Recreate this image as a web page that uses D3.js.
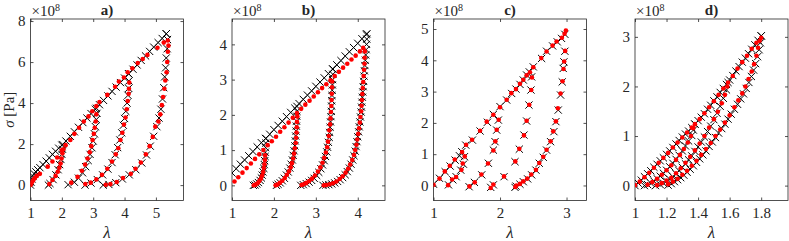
<!DOCTYPE html>
<html lang="en">
<head>
<meta charset="utf-8">
<title>Stress vs stretch, four tests</title>
<script src="https://cdn.jsdelivr.net/npm/d3@7"></script>
<style>
body { margin: 0; background: #fff; }
text { font-family: "Liberation Serif", "Times New Roman", serif; fill: #262626; }
</style>
</head>
<body>
<script>
// ---- data: [lambda, sigma/1e8] ----
// panel a: model (black x) and experiment (red dots)
var blackA = [
  [[1.0,0.0],[1.02,0.15],[1.05,0.3],[1.08,0.42],[1.12,0.55],[1.17,0.65],[1.23,0.75],[1.3,0.85],[1.4,1.0],[1.5,1.17],[1.6,1.33],[1.7,1.5],[1.8,1.65],[1.9,1.8],[2.0,1.95],[2.13,2.15],[2.27,2.38],[2.4,2.6],[2.53,2.82],[2.67,3.05],[2.8,3.27],[2.93,3.49],[3.07,3.7],[3.2,3.92],[3.33,4.13],[3.47,4.35],[3.6,4.57],[3.73,4.78],[3.87,5.0],[4.0,5.22],[4.13,5.43],[4.27,5.65],[4.4,5.86],[4.53,6.08],[4.67,6.3],[4.8,6.52],[4.93,6.73],[5.07,6.95],[5.2,7.15],[5.33,7.38]],
  [[2.03,1.98],[2.02,1.75],[2.0,1.5],[1.97,1.25],[1.93,1.0],[1.88,0.75],[1.81,0.5],[1.72,0.27],[1.62,0.08],[1.57,0.0]],
  [[3.1,3.75],[3.12,3.5],[3.1,3.2],[3.07,2.85],[3.04,2.5],[3.0,2.15],[2.96,1.82],[2.9,1.5],[2.84,1.2],[2.76,0.9],[2.66,0.6],[2.53,0.34],[2.4,0.14],[2.2,0.02]],
  [[4.13,5.43],[4.14,5.08],[4.13,4.72],[4.11,4.38],[4.08,4.0],[4.04,3.6],[4.0,3.25],[3.96,2.92],[3.91,2.55],[3.85,2.2],[3.78,1.83],[3.7,1.48],[3.6,1.1],[3.47,0.78],[3.3,0.5],[3.13,0.27],[2.93,0.1],[2.74,0.0]],
  [[5.33,7.38],[5.37,7.1],[5.36,6.65],[5.33,6.2],[5.31,5.72],[5.28,5.28],[5.25,4.75],[5.21,4.2],[5.16,3.7],[5.1,3.27],[5.03,2.85],[4.93,2.38],[4.82,1.9],[4.7,1.47],[4.55,1.08],[4.36,0.75],[4.15,0.5],[3.93,0.3],[3.72,0.12],[3.5,0.03],[3.32,0.0]]
];
var redA = [
  [[1.0,0.0],[1.02,0.07],[1.04,0.14],[1.07,0.2],[1.1,0.27],[1.14,0.35],[1.2,0.45],[1.3,0.55],[1.55,0.9],[1.7,1.15],[1.85,1.35],[2.0,1.7],[2.12,1.95],[2.27,2.2],[2.4,2.5],[2.55,2.8],[2.7,3.1],[2.85,3.35],[2.97,3.6],[3.1,3.85],[3.2,4.05],[3.45,4.4],[3.7,4.8],[3.82,5.05],[3.98,5.25],[4.1,5.5],[4.25,5.7],[4.42,5.95],[4.58,6.15],[4.73,6.35],[5.05,6.7],[5.25,6.95],[5.38,7.05]],
  [[2.05,1.75],[2.02,1.55],[1.99,1.3],[1.96,1.05],[1.92,0.85],[1.87,0.65],[1.8,0.45],[1.7,0.25],[1.6,0.05]],
  [[3.1,3.45],[3.08,3.1],[3.05,2.8],[3.02,2.5],[2.98,2.2],[2.94,1.9],[2.89,1.6],[2.82,1.3],[2.74,1.0],[2.64,0.7],[2.5,0.4],[2.3,0.12]],
  [[4.15,5.0],[4.14,4.7],[4.13,4.45],[4.1,4.1],[4.07,3.7],[4.03,3.3],[3.98,2.95],[3.93,2.55],[3.87,2.2],[3.8,1.8],[3.72,1.5],[3.6,1.15],[3.45,0.8],[3.28,0.5],[3.1,0.28],[2.92,0.12],[2.75,0.05]],
  [[5.4,6.8],[5.38,6.5],[5.36,6.0],[5.34,5.5],[5.3,5.1],[5.27,4.7],[5.23,4.3],[5.19,3.9],[5.14,3.45],[5.08,3.1],[4.98,2.85],[4.9,2.35],[4.8,1.9],[4.68,1.5],[4.52,1.1],[4.35,0.8],[4.2,0.55],[3.95,0.35],[3.75,0.15],[3.55,0.05],[3.4,0.02]]
];

// panel b
var blackB = [
  [[1.0,0.35],[1.1,0.47],[1.2,0.6],[1.3,0.72],[1.4,0.84],[1.5,0.96],[1.6,1.09],[1.7,1.21],[1.8,1.33],[1.9,1.45],[2.0,1.58],[2.1,1.7],[2.2,1.82],[2.3,1.95],[2.4,2.07],[2.5,2.19],[2.6,2.32],[2.7,2.44],[2.8,2.56],[2.9,2.68],[3.0,2.81],[3.1,2.93],[3.2,3.05],[3.3,3.17],[3.4,3.3],[3.5,3.42],[3.6,3.54],[3.7,3.67],[3.8,3.79],[3.9,3.91],[4.0,4.03],[4.1,4.16],[4.2,4.28]],
  [[1.81,1.33],[1.805,1.2],[1.8,1.07],[1.795,0.94],[1.79,0.82],[1.78,0.7],[1.77,0.59],[1.76,0.48],[1.74,0.38],[1.72,0.29],[1.7,0.21],[1.67,0.14],[1.63,0.08],[1.59,0.04],[1.55,0.01],[1.51,0.0]],
  [[2.55,2.24],[2.55,2.1],[2.545,1.96],[2.54,1.82],[2.535,1.68],[2.53,1.54],[2.52,1.4],[2.51,1.26],[2.5,1.12],[2.48,0.98],[2.46,0.85],[2.44,0.72],[2.41,0.6],[2.38,0.49],[2.34,0.38],[2.3,0.29],[2.25,0.2],[2.2,0.13],[2.15,0.07],[2.1,0.03],[2.06,0.0]],
  [[3.41,3.3],[3.405,3.15],[3.4,3.0],[3.395,2.85],[3.39,2.7],[3.385,2.55],[3.38,2.4],[3.375,2.25],[3.37,2.1],[3.36,1.95],[3.35,1.8],[3.34,1.65],[3.33,1.5],[3.32,1.36],[3.3,1.22],[3.28,1.08],[3.26,0.95],[3.23,0.82],[3.2,0.7],[3.16,0.58],[3.12,0.47],[3.07,0.37],[3.02,0.28],[2.96,0.2],[2.9,0.14],[2.84,0.09],[2.77,0.05],[2.7,0.02],[2.64,0.0]],
  [[4.22,4.3],[4.215,4.15],[4.21,4.0],[4.2,3.85],[4.19,3.7],[4.18,3.55],[4.17,3.4],[4.16,3.25],[4.15,3.1],[4.14,2.95],[4.13,2.8],[4.12,2.65],[4.11,2.5],[4.1,2.36],[4.09,2.22],[4.08,2.08],[4.065,1.94],[4.05,1.8],[4.035,1.66],[4.02,1.52],[4.0,1.38],[3.98,1.24],[3.96,1.1],[3.94,0.97],[3.91,0.84],[3.88,0.72],[3.84,0.6],[3.8,0.49],[3.75,0.39],[3.7,0.3],[3.64,0.22],[3.58,0.16],[3.52,0.11],[3.45,0.07],[3.38,0.04],[3.31,0.02],[3.24,0.01],[3.17,0.0]]
];
var redB = [
  [[1.06,0.11],[1.15,0.23],[1.25,0.36],[1.35,0.49],[1.45,0.62],[1.55,0.75],[1.65,0.88],[1.75,1.0],[1.85,1.14],[1.95,1.25],[2.05,1.38],[2.15,1.52],[2.25,1.65],[2.35,1.78],[2.45,1.92],[2.55,2.05],[2.65,2.17],[2.75,2.29],[2.85,2.4],[2.95,2.52],[3.05,2.64],[3.15,2.76],[3.25,2.87],[3.35,2.98],[3.45,3.1],[3.55,3.22],[3.65,3.34],[3.75,3.45],[3.85,3.57],[3.95,3.68],[4.05,3.8],[4.13,3.9]],
  [[1.79,0.85],[1.785,0.72],[1.775,0.6],[1.76,0.49],[1.745,0.38],[1.72,0.28],[1.69,0.19],[1.65,0.12],[1.61,0.06],[1.56,0.02],[1.52,0.0]],
  [[2.56,1.95],[2.55,1.8],[2.545,1.65],[2.54,1.5],[2.53,1.35],[2.52,1.2],[2.5,1.05],[2.48,0.9],[2.46,0.76],[2.43,0.63],[2.4,0.51],[2.36,0.4],[2.31,0.3],[2.26,0.21],[2.2,0.13],[2.14,0.07],[2.08,0.02],[2.04,0.0]],
  [[3.39,2.95],[3.385,2.78],[3.38,2.6],[3.375,2.42],[3.37,2.25],[3.36,2.08],[3.35,1.9],[3.34,1.73],[3.32,1.56],[3.31,1.4],[3.29,1.24],[3.27,1.08],[3.24,0.93],[3.2,0.78],[3.16,0.64],[3.11,0.51],[3.05,0.39],[2.98,0.28],[2.91,0.19],[2.84,0.12],[2.77,0.07],[2.71,0.03],[2.66,0.01]],
  [[4.17,3.8],[4.165,3.62],[4.16,3.45],[4.15,3.28],[4.14,3.1],[4.13,2.93],[4.12,2.76],[4.11,2.59],[4.1,2.42],[4.09,2.26],[4.08,2.1],[4.065,1.94],[4.05,1.78],[4.03,1.62],[4.01,1.46],[3.99,1.3],[3.97,1.15],[3.94,1.0],[3.91,0.86],[3.87,0.72],[3.82,0.59],[3.77,0.47],[3.71,0.36],[3.64,0.26],[3.57,0.18],[3.49,0.11],[3.41,0.06],[3.33,0.03],[3.25,0.01],[3.19,0.0]]
];

// panel c
var blackC = [
  [[1.0,0.04],[1.09,0.23],[1.175,0.44],[1.25,0.62],[1.325,0.81],[1.39,0.95],[1.425,1.08],[1.485,1.29],[1.585,1.45],[1.7,1.74],[1.81,2.02],[1.9,2.27],[2.0,2.52],[2.1,2.73],[2.175,2.94],[2.24,3.08],[2.3,3.23],[2.35,3.37],[2.4,3.53],[2.44,3.63],[2.5,3.79],[2.625,4.06],[2.7,4.29],[2.79,4.46],[2.86,4.59],[2.925,4.7],[2.975,4.83]],
  [[1.465,0.92],[1.45,0.68],[1.41,0.49],[1.34,0.28],[1.29,0.18],[1.225,0.02]],
  [[1.975,2.09],[1.95,1.77],[1.925,1.4],[1.9,1.13],[1.825,0.71],[1.725,0.34],[1.615,0.1],[1.535,-0.04]],
  [[2.475,3.47],[2.465,3.05],[2.435,2.57],[2.4,2.06],[2.36,1.61],[2.29,1.16],[2.225,0.76],[2.06,0.28],[1.9,0.02],[1.86,-0.06]],
  [[2.975,4.29],[2.96,3.95],[2.95,3.74],[2.935,3.31],[2.91,2.89],[2.875,2.41],[2.84,2.04],[2.81,1.72],[2.76,1.4],[2.7,1.13],[2.65,0.9],[2.59,0.71],[2.54,0.49],[2.475,0.34],[2.415,0.21],[2.35,0.12],[2.3,0.04],[2.24,-0.02],[2.225,-0.06]]
];
var redC = [
  [[1.0,0.02],[1.09,0.22],[1.17,0.45],[1.245,0.63],[1.32,0.83],[1.43,1.07],[1.49,1.3],[1.58,1.46],[1.7,1.75],[1.8,2.04],[1.9,2.26],[2.0,2.5],[2.1,2.74],[2.17,2.95],[2.24,3.08],[2.3,3.25],[2.35,3.38],[2.4,3.52],[2.45,3.62],[2.5,3.78],[2.62,4.07],[2.7,4.28],[2.79,4.47],[2.85,4.6],[2.93,4.72],[2.97,4.85],[2.99,4.95]],
  [[1.47,0.93],[1.44,0.7],[1.42,0.5],[1.34,0.27],[1.28,0.19],[1.22,0.01]],
  [[1.98,2.1],[1.95,1.78],[1.93,1.41],[1.9,1.12],[1.82,0.7],[1.72,0.35],[1.62,0.1],[1.54,-0.03]],
  [[2.48,3.45],[2.47,3.05],[2.44,2.58],[2.4,2.07],[2.36,1.6],[2.29,1.17],[2.23,0.77],[2.06,0.29],[1.9,0.03],[1.86,-0.08]],
  [[2.98,4.3],[2.965,3.96],[2.955,3.72],[2.94,3.33],[2.91,2.94],[2.87,2.47],[2.84,2.05],[2.8,1.73],[2.76,1.41],[2.7,1.14],[2.65,0.92],[2.59,0.72],[2.54,0.5],[2.47,0.35],[2.41,0.22],[2.35,0.13],[2.3,0.05],[2.245,0.0],[2.23,-0.05]]
];

// panel d
var blackD = [
  [[1.0,0.0],[1.02,0.05],[1.04,0.11],[1.06,0.18],[1.08,0.24],[1.1,0.3],[1.12,0.37],[1.14,0.43],[1.16,0.5],[1.18,0.56],[1.2,0.63],[1.22,0.7],[1.24,0.77],[1.26,0.84],[1.28,0.91],[1.3,0.98],[1.32,1.04],[1.34,1.1],[1.36,1.17],[1.38,1.24],[1.4,1.31],[1.42,1.38],[1.44,1.45],[1.46,1.54],[1.48,1.62],[1.5,1.71],[1.52,1.79],[1.54,1.88],[1.56,1.96],[1.58,2.04],[1.6,2.13],[1.62,2.22],[1.64,2.31],[1.66,2.4],[1.68,2.49],[1.7,2.57],[1.72,2.66],[1.74,2.75],[1.76,2.84],[1.78,2.93],[1.8,3.02]],
  [[1.38,1.24],[1.37,1.12],[1.36,1.01],[1.34,0.9],[1.32,0.8],[1.3,0.7],[1.28,0.61],[1.26,0.53],[1.24,0.45],[1.22,0.38],[1.2,0.31],[1.18,0.25],[1.16,0.19],[1.14,0.14],[1.12,0.09],[1.1,0.05],[1.08,0.02],[1.06,0.0]],
  [[1.59,2.08],[1.58,1.93],[1.56,1.76],[1.54,1.6],[1.52,1.46],[1.5,1.33],[1.48,1.2],[1.46,1.09],[1.44,0.98],[1.42,0.88],[1.4,0.78],[1.38,0.69],[1.36,0.6],[1.34,0.52],[1.32,0.44],[1.3,0.37],[1.28,0.3],[1.26,0.24],[1.24,0.18],[1.22,0.13],[1.2,0.09],[1.18,0.05],[1.16,0.02],[1.13,0.0]],
  [[1.8,3.02],[1.795,2.88],[1.787,2.74],[1.777,2.6],[1.765,2.46],[1.752,2.33],[1.738,2.2],[1.722,2.08],[1.705,1.96],[1.688,1.85],[1.67,1.75],[1.65,1.64],[1.63,1.54],[1.61,1.44],[1.59,1.34],[1.57,1.24],[1.55,1.15],[1.53,1.06],[1.51,0.97],[1.49,0.88],[1.47,0.79],[1.45,0.7],[1.43,0.62],[1.41,0.54],[1.39,0.47],[1.37,0.4],[1.35,0.33],[1.33,0.27],[1.31,0.21],[1.29,0.16],[1.27,0.12],[1.25,0.08],[1.23,0.04],[1.21,0.01]]
];
var redD = [
  [[1.0,0.01],[1.03,0.08],[1.06,0.17],[1.09,0.26],[1.12,0.36],[1.15,0.46],[1.18,0.56],[1.21,0.66],[1.24,0.77],[1.27,0.87],[1.3,0.97],[1.33,1.07],[1.36,1.17],[1.38,1.24],[1.41,1.34],[1.44,1.46],[1.47,1.58],[1.5,1.7],[1.53,1.83],[1.56,1.96],[1.59,2.08],[1.62,2.21],[1.65,2.36],[1.68,2.49],[1.71,2.62],[1.74,2.76],[1.77,2.88],[1.8,2.98]],
  [[1.37,1.16],[1.355,1.0],[1.335,0.87],[1.31,0.74],[1.285,0.62],[1.26,0.52],[1.23,0.41],[1.2,0.31],[1.17,0.22],[1.14,0.14],[1.11,0.07],[1.08,0.02]],
  [[1.585,2.0],[1.57,1.83],[1.55,1.66],[1.525,1.49],[1.5,1.34],[1.47,1.17],[1.44,1.0],[1.41,0.85],[1.38,0.71],[1.35,0.58],[1.32,0.46],[1.29,0.35],[1.26,0.25],[1.23,0.16],[1.2,0.1],[1.17,0.05],[1.14,0.01]],
  [[1.79,2.92],[1.78,2.78],[1.77,2.62],[1.755,2.45],[1.74,2.3],[1.72,2.15],[1.7,2.0],[1.68,1.86],[1.655,1.72],[1.63,1.58],[1.6,1.42],[1.57,1.27],[1.54,1.13],[1.51,1.0],[1.48,0.86],[1.45,0.74],[1.42,0.62],[1.39,0.5],[1.36,0.4],[1.33,0.3],[1.3,0.22],[1.27,0.14],[1.24,0.08],[1.21,0.03]]
];

// ticks and labels
var titles = ["a)", "b)", "c)", "d)"];
var xTicksA = [1, 2, 3, 4, 5],            yTicksA = [0, 2, 4, 6, 8];
var xTicksB = [1, 2, 3, 4],               yTicksB = [0, 1, 2, 3, 4];
var xTicksC = [1, 2, 3],                  yTicksC = [0, 1, 2, 3, 4, 5];
var xTicksD = [1, 1.2, 1.4, 1.6, 1.8],    yTicksD = [0, 1, 2, 3];
var xDomains = [[1, 5.88], [1, 4.65], [1, 3.3], [1, 1.97]];
var yDomains = [[-0.75, 8.1], [-0.43, 4.72], [-0.48, 5.32], [-0.3, 3.36]];

// ---- drawing ----
var svgWidth = 789, svgHeight = 241;
var svg = d3.select("body").append("svg")
  .attr("width", svgWidth).attr("height", svgHeight);

var boxW = 153, plotTop = 19, plotBottom = 200.5;
var lefts = [30.5, 232, 433.5, 635];
var axisColor = "#262626";

var panels = [
  { black: blackA, red: redA, xt: xTicksA, yt: yTicksA },
  { black: blackB, red: redB, xt: xTicksB, yt: yTicksB },
  { black: blackC, red: redC, xt: xTicksC, yt: yTicksC },
  { black: blackD, red: redD, xt: xTicksD, yt: yTicksD }
];

var cross = function(s) {
  return "M" + (-s) + "," + (-s) + "L" + s + "," + s + "M" + (-s) + "," + s + "L" + s + "," + (-s);
};

panels.forEach(function(p, i) {
  var left = lefts[i];
  var x = d3.scaleLinear().domain(xDomains[i]).range([left, left + boxW]);
  var y = d3.scaleLinear().domain(yDomains[i]).range([plotBottom, plotTop]);
  var g = svg.append("g");

  g.append("clipPath").attr("id", "clip" + i)
    .append("rect").attr("x", left).attr("y", plotTop)
    .attr("width", boxW).attr("height", plotBottom - plotTop);

  var fmt = function(d) { return String(d); };

  // axes (inward ticks on all four sides)
  var styleAxis = function(sel) {
    sel.select(".domain").remove();
    sel.selectAll(".tick line").attr("stroke", axisColor).attr("stroke-width", 0.8);
    sel.selectAll("text").attr("font-family", "Liberation Serif, serif")
      .attr("font-size", 15).attr("fill", axisColor);
  };
  g.append("g").attr("transform", "translate(0," + plotBottom + ")")
    .call(d3.axisBottom(x).tickValues(p.xt).tickSize(-3).tickPadding(7).tickFormat(fmt))
    .call(styleAxis);
  g.append("g").attr("transform", "translate(0," + plotTop + ")")
    .call(d3.axisTop(x).tickValues(p.xt).tickSize(-3).tickFormat(""))
    .call(styleAxis);
  g.append("g").attr("transform", "translate(" + left + ",0)")
    .call(d3.axisLeft(y).tickValues(p.yt).tickSize(-3).tickPadding(5).tickFormat(fmt))
    .call(styleAxis);
  g.append("g").attr("transform", "translate(" + (left + boxW) + ",0)")
    .call(d3.axisRight(y).tickValues(p.yt).tickSize(-3).tickFormat(""))
    .call(styleAxis);

  g.append("rect").attr("x", left).attr("y", plotTop)
    .attr("width", boxW).attr("height", plotBottom - plotTop)
    .attr("fill", "none").attr("stroke", axisColor).attr("stroke-width", 0.8);

  var plot = g.append("g").attr("clip-path", "url(#clip" + i + ")");

  // model: black x markers
  var blackPts = [].concat.apply([], p.black);
  plot.selectAll("path.mk").data(blackPts).enter().append("path")
    .attr("class", "mk")
    .attr("d", cross(3.6))
    .attr("transform", function(d) { return "translate(" + x(d[0]) + "," + y(d[1]) + ")"; })
    .attr("stroke", "#000").attr("stroke-width", 1).attr("fill", "none");

  // experiment: red dots
  var redPts = [].concat.apply([], p.red);
  plot.selectAll("circle").data(redPts).enter().append("circle")
    .attr("cx", function(d) { return x(d[0]); })
    .attr("cy", function(d) { return y(d[1]); })
    .attr("r", 2.3).attr("fill", "#ff0000");

  // x10^8 multiplier
  var m = g.append("text").attr("x", left + 1).attr("y", 15.5).attr("font-size", 15);
  m.append("tspan").text("\u00d710");
  m.append("tspan").attr("dy", -5).attr("font-size", 10).text("8");

  // title
  g.append("text").attr("x", left + boxW / 2).attr("y", 15)
    .attr("text-anchor", "middle").attr("font-size", 15).attr("font-weight", "bold")
    .text(titles[i]);

  // x label
  g.append("text").attr("x", left + boxW / 2).attr("y", 238)
    .attr("text-anchor", "middle").attr("font-size", 17).attr("font-style", "italic")
    .text("\u03bb");
});

// y label
var yl = svg.append("text").attr("transform", "translate(14," + ((plotTop + plotBottom) / 2) + ") rotate(-90)")
  .attr("text-anchor", "middle").attr("font-size", 15);
yl.append("tspan").attr("font-style", "italic").text("\u03c3");
yl.append("tspan").text(" [Pa]");
</script>
</body>
</html>
